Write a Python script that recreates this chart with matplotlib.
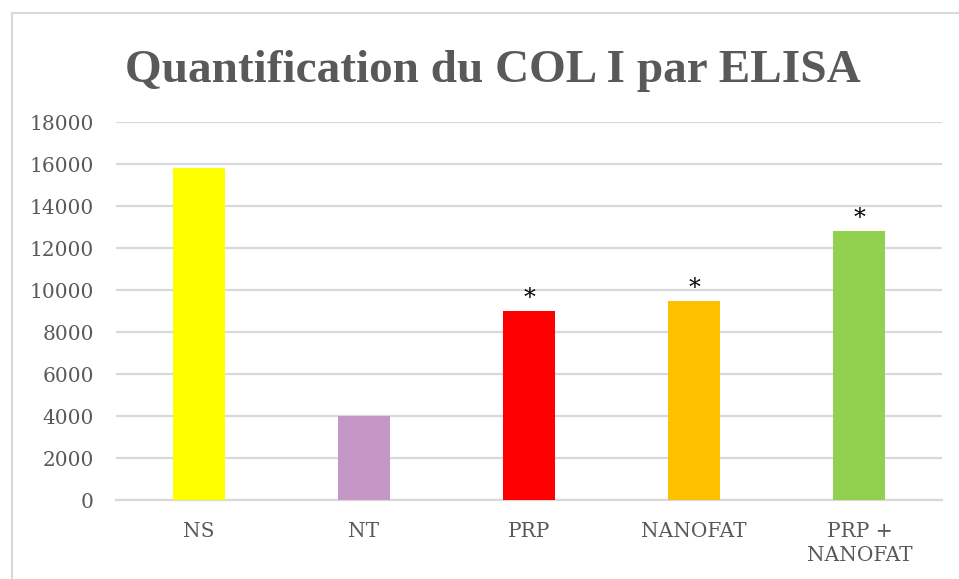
import matplotlib
matplotlib.use("Agg")
import matplotlib.pyplot as plt
from matplotlib.lines import Line2D

categories = ["NS", "NT", "PRP", "NANOFAT", "PRP +\nNANOFAT"]
values = [15800, 4000, 9000, 9480, 12800]
colors = ["#FFFF00", "#C497C6", "#FF0000", "#FFC000", "#92D050"]
significant = [False, False, True, True, True]
yticks = [0, 2000, 4000, 6000, 8000, 10000, 12000, 14000, 16000, 18000]
title = "Quantification du COL I par ELISA"

W, H = 959, 579
fig = plt.figure(figsize=(W / 100, H / 100), dpi=100)
fig.patch.set_facecolor("white")

ax = fig.add_axes([116 / W, 1 - 500 / H, (942 - 116) / W, (500 - 122) / H])
x = list(range(len(categories)))
ax.bar(x, values, width=0.315, color=colors, zorder=3)
ax.set_xlim(-0.5, len(categories) - 0.5)
ax.set_ylim(0, 18000)
ax.set_yticks(yticks)
ax.set_yticklabels([str(t) for t in yticks])
ax.set_xticks(x)
ax.set_xticklabels(categories, linespacing=1.35)

grey_text = "#595959"
grid_c = "#D9D9D9"
ax.yaxis.grid(True, color=grid_c, linewidth=1.6, zorder=0)
ax.set_axisbelow(True)
for s in ["top", "right", "left"]:
    ax.spines[s].set_visible(False)
ax.spines["bottom"].set_color(grid_c)
ax.spines["bottom"].set_linewidth(1.6)
ax.tick_params(axis="both", length=0, colors=grey_text)
ax.tick_params(axis="y", pad=16)
ax.tick_params(axis="x", pad=16)
for lab in ax.get_yticklabels() + ax.get_xticklabels():
    lab.set_fontfamily("DejaVu Serif")
    lab.set_fontsize(14.5)
    lab.set_color(grey_text)

for xi, v, sig in zip(x, values, significant):
    if sig:
        ax.annotate("*", (xi, v), xytext=(0, 1), textcoords="offset points",
                    ha="center", va="bottom", fontsize=17, color="black",
                    family="DejaVu Serif")

fig.text(493 / W, 1 - 82 / H, title, ha="center", va="baseline",
         fontsize=34, fontweight="bold", color=grey_text,
         family="Liberation Serif")

# chart border (left and top visible)
fig.add_artist(Line2D([12 / W, 12 / W], [0, 1 - 12.5 / H], transform=fig.transFigure,
                      color=grid_c, linewidth=1.5))
fig.add_artist(Line2D([12 / W, 1], [1 - 12.5 / H, 1 - 12.5 / H], transform=fig.transFigure,
                      color=grid_c, linewidth=1.5))

fig.savefig("out.png", dpi=100)
